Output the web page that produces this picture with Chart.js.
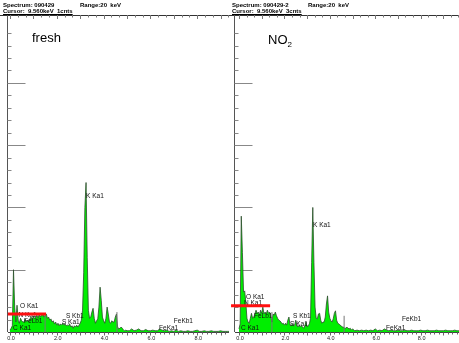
<!DOCTYPE html>
<html><head><meta charset="utf-8">
<script src="https://cdn.jsdelivr.net/npm/chart.js@4.4.1/dist/chart.umd.min.js"></script>
<style>
html,body{margin:0;padding:0;background:#fff;}
#wrap{position:relative;width:459px;height:343px;overflow:hidden;background:#fff;font-family:"Liberation Sans",Arial,sans-serif;}
canvas{position:absolute;top:0;}
.hd{position:absolute;font-size:6px;line-height:6px;color:#000;white-space:pre;font-weight:bold;}
.ttl{position:absolute;font-size:13px;line-height:13px;color:#000;}
.ttl sub{font-size:8px;vertical-align:-3px;line-height:0;}
</style></head>
<body>
<div id="wrap">
  <canvas id="c1" width="230" height="343" style="left:0"></canvas>
  <canvas id="c2" width="230" height="343" style="left:229px"></canvas>
  <div class="hd" style="left:3px;top:2px">Spectrum: 090429</div>
  <div class="hd" style="left:80px;top:2px">Range:20  keV</div>
  <div class="hd" style="left:3px;top:8px;text-decoration:underline">Cursor:  9.560keV  1cnts</div>
  <div class="hd" style="left:232px;top:2px">Spectrum: 090429-2</div>
  <div class="hd" style="left:308px;top:2px">Range:20  keV</div>
  <div class="hd" style="left:232px;top:8px;text-decoration:underline">Cursor:  9.560keV  3cnts</div>
  <div class="ttl" style="left:32px;top:31px">fresh</div>
  <div class="ttl" style="left:268px;top:33px">NO<sub>2</sub></div>
</div>
<script>
// ---- data (energy in keV, counts in arbitrary units; 100 = one major y tick) ----
const energyKeV = [
 0.00,0.05,0.10,0.15,0.20,0.25,0.30,0.35,0.40,0.45,0.50,0.55,0.60,0.65,0.70,0.75,0.80,0.85,0.90,0.95,
 1.00,1.05,1.10,1.15,1.20,1.25,1.30,1.35,1.40,1.45,1.50,1.55,1.60,1.65,1.70,1.75,1.80,1.85,1.90,1.95,
 2.00,2.05,2.10,2.15,2.20,2.25,2.30,2.35,2.40,2.45,2.50,2.55,2.60,2.65,2.70,2.75,2.80,2.85,2.90,2.95,
 3.00,3.05,3.10,3.15,3.20,3.25,3.30,3.35,3.40,3.45,3.50,3.55,3.60,3.65,3.70,3.75,3.80,3.85,3.90,3.95,
 4.00,4.05,4.10,4.15,4.20,4.25,4.30,4.35,4.40,4.45,4.50,4.55,4.60,4.65,4.70,4.75,4.80,4.85,4.90,4.95,
 5.0,5.1,5.2,5.3,5.4,5.5,5.6,5.7,5.8,5.9,6.0,6.1,6.2,6.3,6.4,6.5,6.6,6.7,6.8,6.9,
 7.0,7.1,7.2,7.3,7.4,7.5,7.6,7.7,7.8,7.9,8.0,8.1,8.2,8.3,8.4,8.5,8.6,8.7,8.8,8.9,
 9.0,9.1,9.2,9.3,9.4,9.5,9.6,9.7
];
const countsFresh = [
 3,6,10,100,40,16,43,19,14,22,18,16,16,21,16,19,16,21,24,19,
 26,21,24,27,22,29,24,27,30,24,27,29,22,24,19,21,16,18,13,16,
 11,14,10,13,11,14,11,13,10,11,10,13,8,10,6,10,8,11,8,11,
 14,19,35,96,200,240,120,35,22,24,32,38,22,14,18,21,40,72,51,24,
 18,14,22,40,29,16,14,18,16,16,24,29,8,5,6,8,6,3,2,3,
 2,2,5,2,3,5,2,2,4,2,2,3,2,2,5,3,2,3,1,2,
 1,3,1,2,1,1,2,1,1,2,3,1,1,2,1,1,2,1,1,1,
 2,1,1,1,1,1,1,1
];
const countsNO2 = [
 5,13,186,128,64,66,48,22,16,14,22,30,22,24,29,35,30,32,27,35,
 30,40,29,32,29,35,30,32,26,16,29,27,32,26,22,19,18,16,13,14,
 11,14,11,19,24,11,10,13,10,11,19,10,8,11,8,10,8,6,10,16,
 8,10,13,22,112,200,112,40,22,21,29,30,19,14,16,16,24,45,58,32,
 22,18,16,21,30,34,19,14,13,11,10,8,8,6,6,8,6,5,6,3,
 5,2,3,2,3,2,3,2,3,2,5,2,3,2,5,3,2,3,2,2,
 3,2,2,3,2,2,3,2,2,2,3,2,2,3,2,2,2,3,2,2,
 2,3,2,2,2,3,2,2
];
// ROI marker lines
const markerFreshE = [1.50, 4.57];
const markerFreshH = [29, 32];
const markerNO2E = [1.45, 4.63];
const markerNO2H = [32, 26];
// red cursor bar: [startE, endE, level]
const cursorFresh = [-0.09, 1.54, 29];
const cursorNO2 = [-0.35, 1.37, 42];
// peak labels
const peakNamesFresh = ['K Ka1','O Ka1','N Ka1','FeLb1','C Ka1','S Kb1','S Ka1','FeKb1','FeKa1'];
const peakEFresh     = [3.25, 0.43, 0.36, 0.60, 0.13, 2.39, 2.22, 7.00, 6.37];
const peakYFresh     = [218, 42, 27, 18, 6, 26, 16, 18, 6];
const peakNamesNO2 = ['K Ka1','O Ka1','N Ka1','FeLb1','C Ka1','S Kb1','S Ka1','FeKb1','FeKa1'];
const peakENO2     = [3.26, 0.31, 0.22, 0.66, 0.09, 2.38, 2.25, 7.18, 6.48];
const peakYNO2     = [172, 56, 47, 26, 6, 26, 13, 21, 6];
// axes
const xTickValues = [0, 2, 4, 6, 8];
const xTickLabels = ['0.0', '2.0', '4.0', '6.0', '8.0'];
const yMajorTicks = [100, 200, 300, 400];
const yMinorStep = 20;
const yMax = 509;

// ---- helpers ----
function pts(xs, ys){ return xs.map((e,i)=>({x:e, y:ys[i]})); }
function markerPts(es, hs){
  const out = [];
  es.forEach((e,i)=>{ out.push({x:e,y:0},{x:e,y:hs[i]},{x:e,y:null}); });
  return out;
}

const edsPlugin = {
  id: 'eds',
  beforeDatasetsDraw(chart){
    const {ctx, chartArea:a, scales:{x, y}} = chart;
    const W = chart.width;
    ctx.save();
    ctx.lineWidth = 1;
    // top axis
    ctx.strokeStyle = '#333';
    ctx.beginPath(); ctx.moveTo(0, a.top + 0.5); ctx.lineTo(W, a.top + 0.5); ctx.stroke();
    ctx.strokeStyle = '#777';
    for (let e = 0; e <= x.max; e += 1/3) {
      const px = Math.round(x.getPixelForValue(e)) + 0.5;
      const big = Math.abs(e - Math.round(e)) < 1e-6;
      ctx.beginPath(); ctx.moveTo(px, a.top); ctx.lineTo(px, a.top + (big ? 4 : 2.5)); ctx.stroke();
    }
    // y axis
    const ax = Math.round(a.left) - 0.5;
    ctx.strokeStyle = '#555';
    ctx.beginPath(); ctx.moveTo(ax, a.top); ctx.lineTo(ax, a.bottom); ctx.stroke();
    ctx.strokeStyle = '#888';
    for (let v = yMinorStep; v < yMax - 10; v += yMinorStep) {
      const py = Math.round(y.getPixelForValue(v)) + 0.5;
      const major = yMajorTicks.includes(v);
      ctx.beginPath(); ctx.moveTo(ax, py); ctx.lineTo(ax + (major ? 18 : 4), py); ctx.stroke();
    }
    // bottom axis
    const by = Math.round(a.bottom) + 0.5;
    ctx.strokeStyle = '#444';
    ctx.beginPath(); ctx.moveTo(a.left, by); ctx.lineTo(a.right, by); ctx.stroke();
    ctx.strokeStyle = '#666';
    for (let k = 0; k * 0.2 <= x.max; k++) {
      const e = k * 0.2;
      const px = Math.round(x.getPixelForValue(e)) + 0.5;
      ctx.beginPath(); ctx.moveTo(px, by); ctx.lineTo(px, by + (k % 5 === 0 ? 3 : 2)); ctx.stroke();
    }
    ctx.fillStyle = '#222';
    ctx.font = '5.5px "Liberation Sans", Arial, sans-serif';
    ctx.textAlign = 'center'; ctx.textBaseline = 'middle';
    xTickValues.forEach((v,i)=>{ ctx.fillText(xTickLabels[i], x.getPixelForValue(v) + 1, by + 6); });
    ctx.restore();
  },
  afterDatasetDraw(chart, args, opts){
    if (args.index !== 0) return;
    const {ctx, scales:{x, y}} = chart;
    ctx.save();
    ctx.fillStyle = '#111';
    ctx.font = '6.5px "Liberation Sans", Arial, sans-serif';
    ctx.textAlign = 'left'; ctx.textBaseline = 'middle';
    opts.names.forEach((n,i)=>{ ctx.fillText(n, x.getPixelForValue(opts.es[i]), y.getPixelForValue(opts.ys[i])); });
    ctx.restore();
  }
};

function makeChart(id, counts, mE, mH, cursor, names, es, ys, pad, xmin, xmax){
  return new Chart(document.getElementById(id), {
    type: 'line',
    data: { datasets: [
      { data: pts(energyKeV, counts), fill: 'origin', backgroundColor: '#00ee00',
        borderColor: '#2b4d2b', borderWidth: 0.8, order: 3 },
      { data: markerPts(mE, mH), borderColor: '#777', borderWidth: 1, fill: false, spanGaps: false, order: 2 },
      { data: [{x:cursor[0], y:cursor[2]}, {x:cursor[1], y:cursor[2]}], borderColor: '#ff1010',
        borderWidth: 3, fill: false, clip: false, order: 1 }
    ]},
    options: {
      responsive: false, animation: false, events: [],
      layout: { padding: pad },
      elements: { point: { radius: 0 }, line: { tension: 0 } },
      scales: {
        x: { type: 'linear', min: xmin, max: xmax, display: false },
        y: { min: 0, max: yMax, display: false }
      },
      plugins: { legend: { display: false }, tooltip: { enabled: false },
        eds: { names, es, ys } }
    },
    plugins: [edsPlugin]
  });
}

makeChart('c1', countsFresh, markerFreshE, markerFreshH, cursorFresh,
  peakNamesFresh, peakEFresh, peakYFresh, {left:8, right:1, top:15, bottom:11}, -0.0855, 9.359);
makeChart('c2', countsNO2, markerNO2E, markerNO2H, cursorNO2,
  peakNamesNO2, peakENO2, peakYNO2, {left:6, right:0, top:15, bottom:11}, -0.176, 9.69);
</script>
</body></html>
